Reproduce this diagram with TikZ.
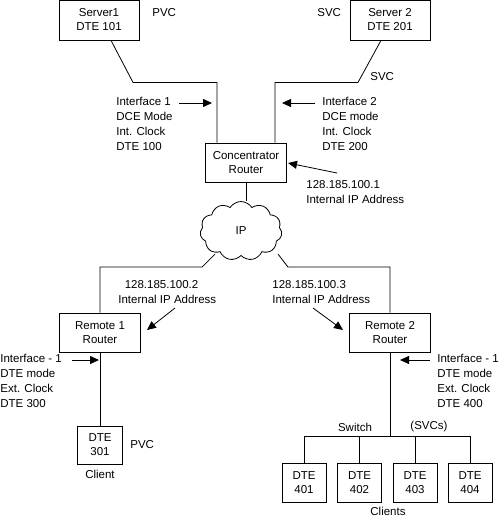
\documentclass[tikz,border=0pt]{standalone}
\usepackage{fontspec}
\setmainfont{Liberation Sans}
\usetikzlibrary{positioning,
        shapes.symbols,
        arrows.meta}

\begin{document}
\begin{tikzpicture}[x=1pt,y=-1pt,line width=0.8pt,
        box/.style={rectangle,draw,align=center,inner sep=0pt,font=\fontsize{11.5}{14}\selectfont},
        lbl/.style={inner sep=0pt,align=left,font=\fontsize{11.5}{15}\selectfont},
        pointer/.style={-{Triangle[length=9pt,width=8pt]}}]
            \useasboundingbox (0,0) rectangle (500,519);
            % servers and concentrator
            \node [box,minimum width=80pt,minimum height=40pt] (srv1) at (99,20) {Server1\\DTE 101};
            \node [box,minimum width=80pt,minimum height=40pt] (srv2) at (390,20) {Server 2\\DTE 201};
            \node [box,minimum width=81pt,minimum height=39pt] (conc) at (246,162.5) {Concentrator\\Router};
            \node [cloud,draw,cloud puffs=11,cloud puff arc=115,aspect=1.4,minimum width=82pt,minimum height=59pt,inner sep=0pt,
                   font=\fontsize{11.5}{14}\selectfont] (ip) at (241,231) {IP};
            % remote routers
            \node [box,minimum width=81pt,minimum height=39pt] (rem1) at (100,332.5) {Remote 1\\Router};
            \node [box,minimum width=81pt,minimum height=39pt] (rem2) at (390,332.5) {Remote 2\\Router};
            % clients
            \node [box,minimum width=45pt,minimum height=38pt] (d301) at (100,445) {DTE\\301};
            \node [box,minimum width=44pt,minimum height=39pt] (d401) at (304,482.5) {DTE\\401};
            \node [box,minimum width=44pt,minimum height=39pt] (d402) at (359.5,482.5) {DTE\\402};
            \node [box,minimum width=44pt,minimum height=39pt] (d403) at (415,482.5) {DTE\\403};
            \node [box,minimum width=44pt,minimum height=39pt] (d404) at (470,482.5) {DTE\\404};

            % labels
            \node [lbl,anchor=west] (pvc1) at (152,13) {PVC};
            \node [lbl,anchor=west] (svc1) at (317,13) {SVC};
            \node [lbl,anchor=west] (svc2) at (370,77) {SVC};
            \node [lbl,anchor=west] (if1) at (116,124) {Interface 1\\DCE Mode\\Int. Clock\\DTE 100};
            \node [lbl,anchor=west] (if2) at (322,124) {Interface 2\\DCE mode\\Int. Clock\\DTE 200};
            \node [lbl,anchor=west] (ipc) at (306,192) {128.185.100.1\\Internal IP Address};
            \node [lbl,anchor=west] (ipr1) at (118,292) {\ \ 128.185.100.2\\Internal IP Address};
            \node [lbl,anchor=west] (ipr2) at (272,292) {128.185.100.3\\Internal IP Address};
            \node [lbl,anchor=west] (if3) at (0,381) {Interface - 1\\DTE mode\\Ext. Clock\\DTE 300};
            \node [lbl,anchor=west] (if4) at (437,381) {Interface - 1\\DTE mode\\Ext. Clock\\DTE 400};
            \node [lbl,anchor=west] (pvc2) at (130,445) {PVC};
            \node [lbl] (cli) at (100,474) {Client};
            \node [lbl] (sw) at (355,427) {Switch};
            \node [lbl] (svcs) at (429,427) {(SVCs)};
            \node [lbl] (clis) at (388,511) {Clients};

            % links
            \draw ([xshift=12pt]srv1.south) -- ++(22,42) -| ([xshift=-29pt]conc.north);
            \draw ([xshift=-9pt]srv2.south) -- ++(-23,42) -| ([xshift=29pt]conc.north);
            \draw (conc.south) -- (conc.south |- ip.north);
            \draw ([shift={(-26,-2)}]ip.south) -- ++(-13,13) -| (rem1.north);
            \draw ([shift={(37,-2)}]ip.south) -- ++(10,13) -| (rem2.north);
            \draw (rem1) -- (d301);
            \draw (rem2.south) -- ++(0,84) coordinate (bus);
            \draw (d401.north |- bus) -- (d404.north |- bus);
            \foreach \n in {401,...,404}
                \draw (d\n.north) -- (d\n.north |- bus);

            % pointers
            \draw [pointer] (179,103) -- (212,103);
            \draw [pointer] (315,103) -- (282,103);
            \draw [pointer] (337,173) -- (288,163);
            \draw [pointer] (175,308) -- (147,330);
            \draw [pointer] (313,308) -- (343,330);
            \draw [pointer] (72,360) -- (99,360);
            \draw [pointer] (430,360) -- (400,360);
        \end{tikzpicture}
\end{document}
